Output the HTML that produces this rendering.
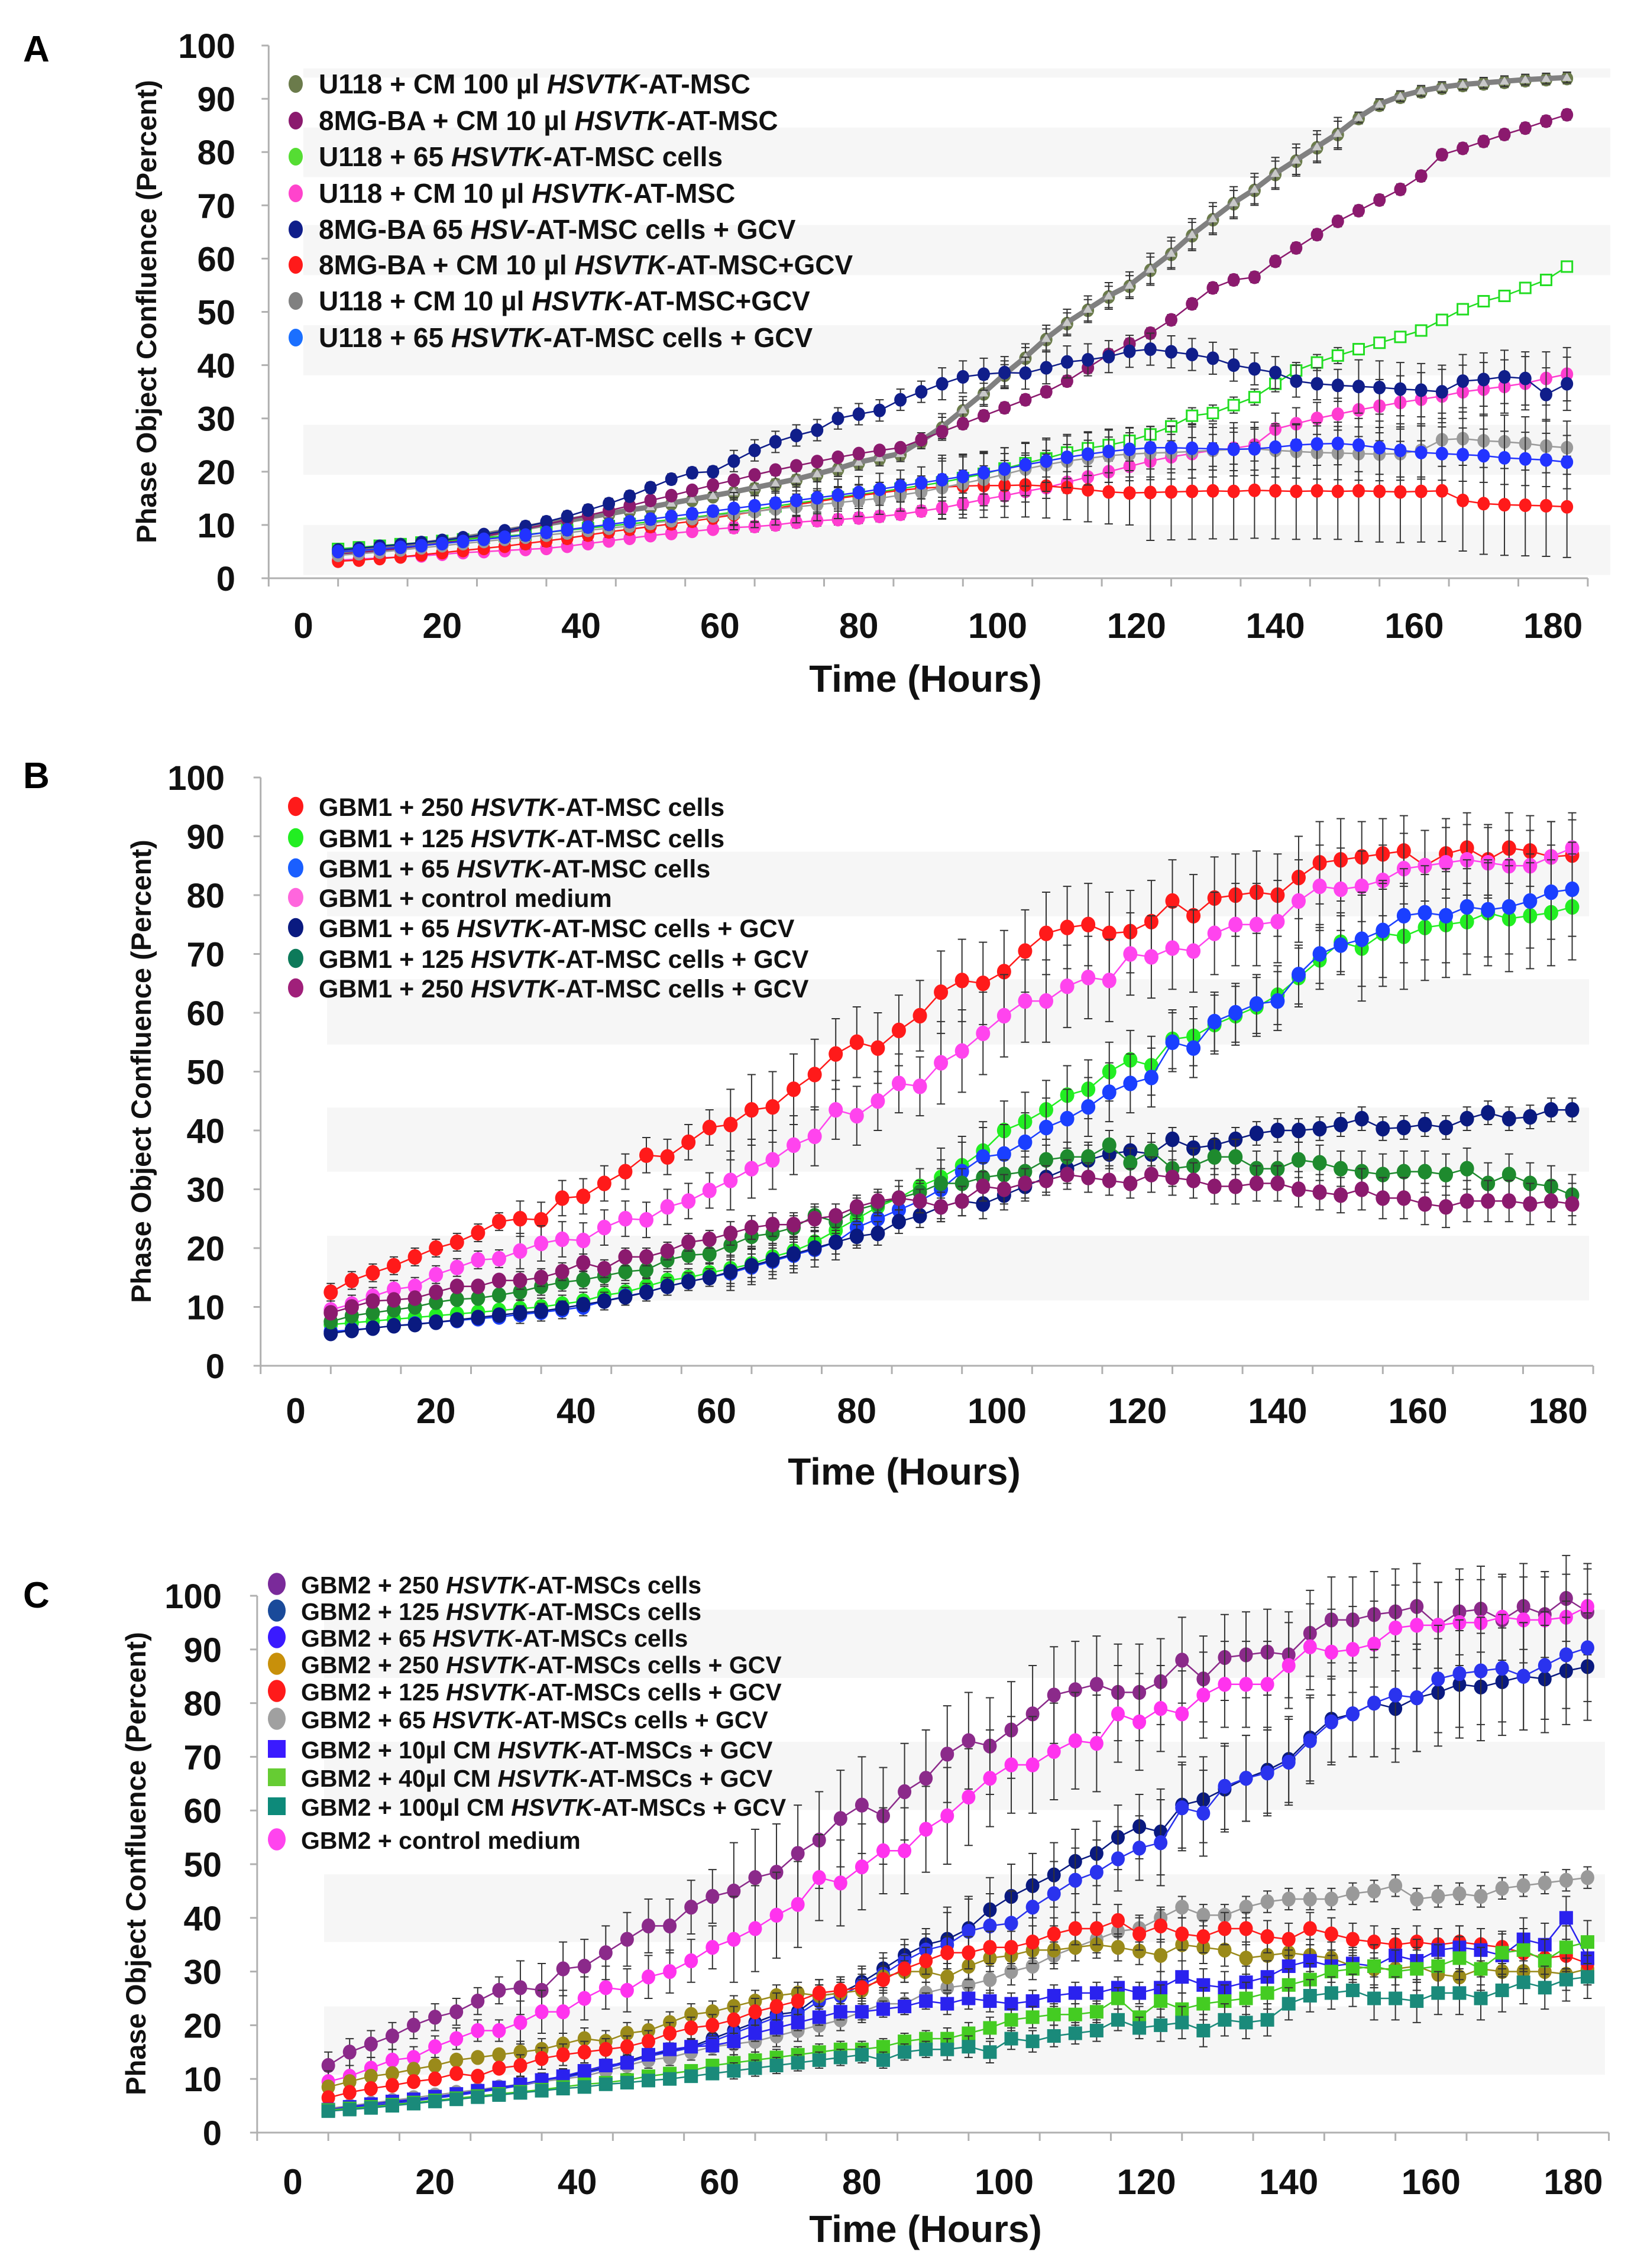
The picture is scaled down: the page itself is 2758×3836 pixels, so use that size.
<!DOCTYPE html>
<html><head><meta charset="utf-8"><title>Phase Object Confluence</title>
<style>html,body{margin:0;padding:0;background:#fff}svg{display:block}text{font-family:"Liberation Sans",Arial,sans-serif}</style>
</head><body>
<svg id="chart" xmlns="http://www.w3.org/2000/svg" width="2758" height="3836" viewBox="0 0 2758 3836">
<rect width="2758" height="3836" fill="#fff"/>
</svg>
<script>
const hours=[5,8,11,14,17,20,23,26,29,32,35,38,41,44,47,50,53,56,59,62,65,68,71,74,77,80,83,86,89,92,95,98,101,104,107,110,113,116,119,122,125,128,131,134,137,140,143,146,149,152,155,158,161,164,167,170,173,176,179,182];
const xTicks=[0,20,40,60,80,100,120,140,160,180];
const yTicks=[0,10,20,30,40,50,60,70,80,90,100];
// Panel A
const aOlive=[4.6,4.9,5.3,5.7,6.2,6.7,7.3,7.9,8.6,9.3,10,10.6,11.3,11.9,12.6,13.2,13.9,14.6,15.3,16,16.8,17.6,18.4,19.4,20.4,21.6,22.4,23.2,25.6,28.2,31.4,34.6,38.1,41.3,44.8,47.8,50.3,52.8,54.8,57.8,60.8,64.3,67.3,70.3,72.8,75.8,78.3,80.8,83.3,86.3,88.8,90.3,91.3,92,92.5,92.8,93.1,93.4,93.6,93.8];
const aPurple=[4.5,4.8,5.2,5.6,6.1,6.6,7.2,7.9,8.6,9.3,10.1,11,11.8,12.7,13.6,14.6,15.5,16.5,17.5,18.4,19.4,20.3,21.1,21.9,22.7,23.4,24,24.5,26,27.5,29,30.5,32,33.5,35,37,39.5,42,44,46,48.5,51.5,54.5,56,56.5,59.5,62,64.5,67,69,71,73,75.5,79.5,80.7,82,83.3,84.5,85.8,87];
const aGreen=[5.5,5.8,6.1,6.4,6.7,7,7.3,7.6,7.9,8.2,8.6,9,9.4,9.8,10.2,10.6,11,11.4,11.9,12.4,12.9,13.5,14.1,14.6,15.2,15.7,16.2,16.8,17.4,18,18.8,19.6,20.6,21.6,22.5,23.6,24.4,25,25.8,27,28.5,30.5,31,32.5,34,36.5,39,40.5,41.8,43,44.2,45.3,46.5,48.5,50.5,52,53,54.5,56,58.5];
const aPink=[3.4,3.6,3.8,4,4.2,4.5,4.8,5,5.2,5.4,5.6,6,6.5,7,7.5,8,8.4,8.8,9.2,9.5,9.7,10,10.5,10.8,11,11.3,11.6,12,12.6,13.2,14,14.8,15.5,16.3,17,18,19,20,21,22,22.8,23.4,24,24.4,25,28,29,30,30.8,31.6,32.3,33,33.6,34.2,35,35.5,36,36.6,37.5,38.3];
const aNavy=[5.3,5.6,6,6.3,6.7,7.1,7.6,8.2,8.9,9.7,10.6,11.6,12.8,14,15.4,17,18.6,19.8,20,22,24,25.6,26.8,27.8,30,30.8,31.5,33.5,35,36.5,37.8,38.3,38.6,38.5,39.5,40.6,41,41.6,42.6,43,42.5,42,41.3,40,39.3,38.6,37,36.5,36.2,36,35.8,35.5,35.3,35,37,37.3,37.8,37.5,34.5,36.5];
const aRed=[3.2,3.4,3.7,4,4.4,4.8,5.2,5.6,6,6.5,7,7.5,8.1,8.7,9.2,9.7,10.2,10.7,11.3,11.9,12.5,13.1,13.8,14.4,15,15.5,16,16.5,16.9,17.1,17.3,17.4,17.4,17.5,17.3,17,16.6,16.2,16,16.1,16.2,16.3,16.4,16.3,16.5,16.4,16.3,16.4,16.3,16.4,16.3,16.2,16.3,16.4,14.6,14,13.8,13.7,13.6,13.4];
const aGreyBig=[4.8,5.1,5.5,5.9,6.4,6.9,7.5,8.1,8.8,9.5,10.2,10.8,11.5,12.1,12.8,13.4,14.1,14.8,15.5,16.2,17,17.8,18.6,19.6,20.6,21.8,22.6,23.4,25.8,28.4,31.6,34.8,38.3,41.5,45,48,50.5,53,55,58,61,64.5,67.5,70.5,73,76,78.5,81,83.5,86.5,89,90.5,91.5,92.2,92.7,93,93.3,93.6,93.8,94];
const aGreyDots=[4.3,4.6,4.9,5.3,5.7,6.1,6.5,6.9,7.3,7.7,8.1,8.5,9,9.4,9.8,10.3,10.8,11.2,11.7,12.1,12.5,13,13.4,13.8,14.2,14.6,15,15.6,16.2,17,17.8,18.6,19.5,20.5,21.3,22,22.5,23,23.3,23.5,23.6,23.8,24,24.2,24.3,24,23.8,23.6,23.5,23.4,23.3,23.4,24,26,26.2,25.8,25.6,25.3,24.8,24.5];
const aBlue=[5,5.2,5.5,5.8,6.1,6.5,6.9,7.3,7.7,8.1,8.6,9.1,9.6,10.1,10.6,11.1,11.6,12.1,12.6,13.1,13.6,14.1,14.6,15.1,15.6,16.1,16.7,17.3,17.9,18.5,19.1,19.8,20.5,21.3,22,22.7,23.3,23.8,24.2,24.5,24.5,24.4,24.3,24.2,24.3,24.6,25,25.2,25.3,25,24.5,24,23.6,23.4,23.2,23,22.6,22.4,22.2,21.8];
// Panel B
const bRed=[12.5,14.5,15.8,17,18.5,20,21,22.6,24.5,25,24.8,28.5,28.8,31,33,35.8,35.5,38,40.5,41,43.5,44,47,49.5,53,55,54,57,59.5,63.5,65.5,65,67,70.5,73.5,74.5,75,73.5,73.8,75.5,79,76.5,79.5,80,80.5,80,83,85.5,86,86.5,87,87.5,85,87,88,86,88,87.5,86.5,86.8];
const bLime=[7,7.3,7.6,7.9,8.2,8.5,8.8,9.1,9.4,9.7,10,10.5,11,12,12.5,13.5,14.5,15,15.8,16.5,17.3,18.5,19.5,21,23,25,27,28.5,30.5,32,34,36.5,40,41.5,43.5,46,47,50,52,51,55.5,56,58,59.5,61,63,66,69,72,71,73.5,73,74.5,75,75.5,77,76,76.5,77,78];
const bBlue=[5.8,6.1,6.4,6.8,7.1,7.4,7.7,8,8.3,8.7,9.1,9.5,10,11,11.8,12.5,13.5,14.3,15,15.8,16.8,17.8,18.8,19.8,21,23.5,25,26.5,28,30,33,35.5,36,38,40.5,42,44,46.5,48,49,55,54,58.5,60,61.5,62,66.5,70,71.5,72.5,74,76.5,77,76.5,78,77.5,78,79,80.5,81];
const bPink=[9.5,10.5,11.8,13,13.5,15.5,16.7,18,18.2,19.5,20.8,21.5,21.3,23.5,25,24.8,27,28,29.8,31.5,33.5,35,37.5,39,43.5,42.5,45,48,47.5,51.5,53.5,56.5,59.5,62,62,64.5,66,65.5,70,69.5,71,70.5,73.5,75,75,75.5,79,81.5,81,81.5,82.5,84.5,85,85.5,86,85.5,85,85,86.5,88];
const bNavy=[5.5,6,6.4,6.8,7,7.4,7.8,8.2,8.6,9,9.3,9.8,10.4,11,11.7,12.5,13.5,14.3,15,16,17,18,19,20,21,22,22.5,24.5,25.5,27,28,27.5,29,30.5,32,33.5,35,36,36.5,36,38.5,37,37.5,38.5,39.5,40,40,40.3,41,42,40.3,40.5,41,40.5,42,43,42,42.3,43.5,43.5];
const bDkGreen=[7.5,8.5,9,9.5,10,10.8,11.3,11.5,12,12.6,13.5,14.2,14.6,15.3,16,16.3,18,18.8,19,20.5,22,22.5,23.5,25.5,24.5,26.5,27.5,28.5,29.5,31,31,32,32.5,33,35,35.5,35.5,37.5,34.5,36.5,33.5,34,35.5,35.5,33.5,33.5,35,34.5,33.5,33,32.5,33,33,32.5,33.5,31,32.5,31,30.5,29];
const bPurple=[9,10,11,11.2,11.5,12.5,13.5,13.5,14.5,14.5,15,16,17.5,16.5,18.5,18.5,19.5,21,21.5,22.5,23.5,24,24,25,25.5,27,28,28.5,28,27,28,30.5,30,31,31.5,32.5,32,31.5,31,32.5,32,31.5,30.5,30.5,31,31,30,29.5,29,30,28.5,28.5,27.5,27,28,28,28,27.5,28,27.5];
// Panel C
const cPurple=[12.5,15,16.5,18,20,21.5,22.5,24.5,26.5,27,26.5,30.5,31,33.5,36,38.5,38.5,42,44,45,47.5,48.5,52,54.5,58.5,61,59,63.5,66,70.5,73,72,75,78,81.5,82.5,83.5,82,82,84,88,84.5,88.5,89,89.5,89,93,95.5,95.5,96.5,97,98,94.5,97,97.5,95.5,98,96.5,99.5,97];
const cNavy=[4.3,4.6,5,5.5,6,6.5,7,7.6,8.2,8.9,9.6,10.4,11.2,12.2,13.3,14.5,15.2,16,17.5,19,20.5,22,22.5,25.5,26,28,30.5,33,35,36,38,41.5,44,46,48,50.5,52,55,57,56,61,62,64,66,67.5,69.5,73.5,77,78,80,79,81,82,83.5,83,84,85,84.5,86,86.8];
const cBlue=[4.3,4.6,5,5.4,5.9,6.4,6.9,7.5,8.1,8.8,9.5,10.2,11,12,13,14.2,15,15.8,17,18.5,20,21.5,22,24.5,25.5,27.5,29.5,32,34,35,37.5,38.5,39,42,44.5,47,48.5,51,53,54,60.5,59.5,64.5,66,67,69,73,76.5,78,80,81.5,81,84.5,85.5,86,86.5,85,87,89,90.3];
const cOlive=[8.5,9.5,10.5,11,11.8,12.5,13.5,14,14.5,15,15.5,16.5,17.5,17,18.5,19,20.5,22,22.5,23.5,24.5,25.5,26,25.5,26,26.5,29,30,30,29,31,32.5,33,34,34,34.5,35,34.5,33.8,33,35,34.5,34,32.5,33,33.5,33,32.5,31,30.5,30.5,31,29.5,29,30.5,30,30,30,29.5,30.5];
const cRed=[6.5,7.5,8.2,8.8,9.5,10,11,10.5,12,12.5,13.8,14.5,15,15.5,16,17,18.5,19.5,20,21,22.5,23.5,24.5,26,26.5,27,28.5,30.5,32,33.5,33.5,34.5,34.5,35.5,37,38,38,39.5,37,38.5,37,36.5,38,38,36.5,36,38,37,36,35.5,35,35.5,35,35.5,35,34.5,33.5,32.5,33,31.5];
const cGrey=[4.5,5,5.5,6,6.5,7,7.5,8,8.5,9,9.5,10,10.5,11.5,12.5,13.5,14,15,16,16.5,17,18,19,20,21,22.5,24,24,26,27,27.5,28.5,30,31,33,34.5,36,37.5,38,40,42,40.5,40.5,42,43,43.5,43.5,43.5,44.5,45,46,43.5,44,44.5,44,45.5,46,46.5,47,47.5];
const cBlueSq=[4.3,4.8,5.3,5.8,6.2,6.7,7.2,7.8,8.4,9,9.8,10.5,11.5,12.5,13,14.5,15.5,16,16.2,17,18.5,19.5,20.5,21.5,22.5,22.5,23,23.5,24.5,24,25,24.5,24,24.5,25.5,26,26,27,26,27,29,27.5,27,28,29,31,32,31,31.5,31,33,32,34,34.5,34,33,36,35,40,32.5];
const cGreenSq=[4.2,4.5,4.8,5.2,5.6,6,6.4,6.8,7.2,7.6,8,8.5,9,9.3,9.8,10.5,11,11.5,12.5,13,13.5,14,14.5,15,15.5,15.5,16,17,17.5,17.5,18.5,19.5,21,21.5,22,22,22.5,25,21.5,24.5,23,24,24.5,25,26,27.5,28.5,30,30.5,31,30,30.5,31,32.5,30.5,33.5,34,32,34.5,35.5];
const cTealSq=[4,4.3,4.6,5,5.4,5.8,6.2,6.6,7,7.4,7.8,8.2,8.5,9,9.3,9.7,10,10.5,11,11.5,12,12.5,13,13.5,14,14.5,13.5,15,15.5,15.5,16,15,17.5,17,18,18.5,19,21,19.5,20,20.5,19,21,20.5,21,24,25.5,26,26.5,25,25,24.5,26,26,25,26.5,28,27,28.5,29];
const cPink=[9.5,10.5,12,13.5,14,16,17.5,19,19,20.5,22.5,22.5,25,27,26.5,29,30,32,34.5,36,38,40.5,42.5,47.5,46.5,49.5,52.5,52.5,56.5,59,62.5,66,68.5,68.5,71,73,72.5,78,76.5,79,78,81.5,83.5,83.5,83.5,87,90.5,89.5,90,91,94,94.5,94.5,95,95,96,95.5,95.5,96,98];
// error magnitudes per 30-hour segment
const aErrPurple=[0.4,0.6,0.8,1,1,1], aErrOlive=[0.4,0.6,1,2,2.5,1], aErrGreen=[0.4,0.6,1,1.5,1.5,1], aErrPink=[0.5,0.7,1,2,3,5], aErrNavy=[0.5,1,2,3,3,5], aErrRed=[0.5,1,2,6,9,9.5], aErrGreyBig=[0.4,0.6,1.5,2.5,3,1], aErrGreyDots=[0.5,1,3,5,5,5], aErrBlue=[0.5,1,3,4,4,5];
const bErrRed=[1.5,3,6,7,7,6], bErrLime=[0.8,1.5,3,5,5,9], bErrBlue=[0.8,1.5,3,5,5,8], bErrPink=[1.5,3,5,7,7,6], bErrNavy=[0.5,1,2,2.5,2,2], bErrDkGreen=[0.8,1.5,2,2.5,3,3.5], bErrPurple=[1,1.5,2,2.5,3,3.5];
const cErrPurple=[2.5,5,9,9,8,8], cErrNavy=[0.7,1.5,3,6,8,10], cErrBlue=[0.7,1.5,3,6,8,10], cErrOlive=[1,2,2,2.5,3,3], cErrRed=[1,2,2.5,3,3,3], cErrGrey=[0.8,1.5,2,2.5,2,2], cErrSq=[0.5,1,1.5,2,3,4], cErrPink=[2,4,8,9,8,8];

const NS='http://www.w3.org/2000/svg';
const svg=document.getElementById('chart');
function el(tag,attrs,parent){const e=document.createElementNS(NS,tag);for(const k in attrs)e.setAttribute(k,attrs[k]);(parent||svg).appendChild(e);return e;}

function drawPanel(cfg,series,legend){
  const g=el('g',{});
  
  
  const X=v=>cfg.x0+cfg.ph*v, Y=v=>cfg.y0-cfg.pu*v;
  cfg.bands.forEach(b=>{const r=el('rect',{x:cfg.bx0,y:Y(b[1]),width:cfg.bx1-cfg.bx0,height:Y(b[0])-Y(b[1]),fill:'#f6f6f6'},g);
    });
  const ya=el('line',{x1:X(-5),y1:Y(0),x2:X(-5),y2:Y(100),stroke:'#b0b0b0','stroke-width':3},g);
  
  const xa=el('line',{x1:X(-5),y1:Y(0),x2:X(185),y2:Y(0),stroke:'#b0b0b0','stroke-width':3},g);
  
  for(let k=0;k<=19;k++){const tx=X(-5+10*k);const t=el('line',{x1:tx,y1:Y(0),x2:tx,y2:Y(0)+14,stroke:'#b0b0b0','stroke-width':3},g);
    }
  yTicks.forEach(v=>{const t=el('line',{x1:X(-5)-12,y1:Y(v),x2:X(-5),y2:Y(v),stroke:'#b0b0b0','stroke-width':3},g);
    
    const l=el('text',{x:cfg.ylx,y:Y(v)+21,'text-anchor':'end','font-size':58,'font-weight':'bold',fill:'#111'},g);l.textContent=v;
    });
  xTicks.forEach(v=>{const l=el('text',{x:X(v),y:cfg.xly+22,'text-anchor':'middle','font-size':60,'font-weight':'bold',fill:'#111'},g);l.textContent=v;
    });
  const xt=el('text',{x:cfg.xtx,y:cfg.xty+24,'text-anchor':'middle','font-size':64,'font-weight':'bold',fill:'#111'},g);xt.textContent='Time (Hours)';
  
  const yt=el('text',{x:0,y:0,'text-anchor':'middle','font-size':47,'font-weight':'bold',fill:'#111',transform:`translate(${cfg.ytx+16},${cfg.yty}) rotate(-90)`},g);yt.textContent='Phase Object Confluence (Percent)';
  
  const pl=el('text',{x:39,y:cfg.ply,'font-size':62,'font-weight':'bold',fill:'#000'},g);pl.textContent=cfg.id.slice(-1).toUpperCase();
  
  series.forEach(s=>{
    const sg=el('g',{},g);
    
    
    s.vals.forEach((v,i)=>{const e=s.err[Math.min(5,Math.floor(hours[i]/30))];const x=X(hours[i]);
      const eb=el('path',{d:`M${x},${Y(v+e)}V${Y(v-e)}M${x-7},${Y(v+e)}H${x+7}M${x-7},${Y(v-e)}H${x+7}`,stroke:'#333','stroke-width':2,fill:'none'},sg);
      });
    const d=s.vals.map((v,i)=>(i?'L':'M')+X(hours[i]).toFixed(1)+','+Y(v).toFixed(1)).join('');
    const ln=el('path',{d:d,stroke:s.line||s.color,'stroke-width':s.lw||2.5,fill:'none','stroke-linejoin':'round'},sg);
    
    s.vals.forEach((v,i)=>{const x=X(hours[i]),y=Y(v);let m;const r=cfg.r;
      if(s.mk==='sq')m=el('rect',{x:x-r,y:y-r,width:2*r,height:2*r,fill:s.color},sg);
      else if(s.mk==='osq')m=el('rect',{x:x-9,y:y-9,width:18,height:18,fill:'#fff',stroke:s.color,'stroke-width':3},sg);
      else if(s.mk==='tri')m=el('path',{d:`M${x},${y-8}L${x+8},${y+6}L${x-8},${y+6}Z`,fill:s.color},sg);
      else m=el('ellipse',{cx:x,cy:y,rx:r,ry:r*1.1,fill:s.color},sg);
      });
  });
  legend.forEach((L,i)=>{const y=cfg.leg[i];const lg=el('g',{},g);
    
    let m;
    if(L[4]==='sq')m=el('rect',{x:cfg.lmx-cfg.lr,y:y-cfg.lr,width:cfg.lr*2,height:cfg.lr*2,fill:L[3]},lg);
    else m=el('ellipse',{cx:cfg.lmx,cy:y,rx:cfg.lr,ry:cfg.lr*1.25,fill:L[3]},lg);
    
    const t=el('text',{x:cfg.ltx,y:y+16,'font-size':cfg.lfs,'font-weight':'bold',fill:'#111'},lg);
    
    const a=el('tspan',{},t);a.textContent=L[0];const b=el('tspan',{'font-style':'italic'},t);b.textContent=L[1];const c=el('tspan',{},t);c.textContent=L[2];
  });
}

drawPanel({id:'panel-a',x0:513,ph:11.74,y0:978,pu:9.01,r:10.5,bx0:513,bx1:2723,
  bands:[[0.6,10],[19.4,28.8],[38.1,47.5],[56.9,66.3],[75.3,84.6],[94,95.7]],
  ylx:398,xly:1057,xtx:1565,xty:1146,ytx:248,yty:527,ply:104,
  leg:[142,204,265,327,388,448,509,571],lmx:500,ltx:539,lr:12,lfs:46},
 [{name:'series-u118-cm100',vals:aOlive,err:aErrOlive,color:'#6b7b4b',mk:'c'},
  {name:'series-u118-cm10-gcv-thick',vals:aGreyBig,err:aErrGreyBig,color:'#c8c8c8',line:'#808080',lw:9,mk:'tri'},
  {name:'series-8mg-cm10',vals:aPurple,err:aErrPurple,color:'#8b1a6e',mk:'c'},
  {name:'series-u118-65-cells',vals:aGreen,err:aErrGreen,color:'#22dd22',mk:'osq'},
  {name:'series-u118-cm10',vals:aPink,err:aErrPink,color:'#ff3dd0',mk:'c'},
  {name:'series-8mg-65-gcv',vals:aNavy,err:aErrNavy,color:'#101e8a',mk:'c'},
  {name:'series-8mg-cm10-gcv',vals:aRed,err:aErrRed,color:'#ff1a1a',mk:'c'},
  {name:'series-u118-cm10-gcv',vals:aGreyDots,err:aErrGreyDots,color:'#9a9a9a',mk:'c'},
  {name:'series-u118-65-gcv',vals:aBlue,err:aErrBlue,color:'#2233ff',mk:'c'}],
 [['U118 + CM 100 µl ','HSVTK','-AT-MSC','#6b7b4b'],['8MG-BA + CM 10 µl ','HSVTK','-AT-MSC','#8b1a6e'],['U118 + 65 ','HSVTK','-AT-MSC cells','#55dd33'],['U118 + CM 10 µl ','HSVTK','-AT-MSC','#ff44cc'],['8MG-BA 65 ','HSV','-AT-MSC cells + GCV','#101e8a'],['8MG-BA + CM 10 µl ','HSVTK','-AT-MSC+GCV','#ff1a1a'],['U118 + CM 10 µl ','HSVTK','-AT-MSC+GCV','#808080'],['U118 + 65 ','HSVTK','-AT-MSC cells + GCV','#1a6fff']]);

drawPanel({id:'panel-b',x0:500,ph:11.86,y0:2310,pu:9.95,r:12,bx0:553,bx1:2687,
  bands:[[11.1,22.1],[33,43.9],[54.6,65.7],[76.4,87.4]],
  ylx:380,xly:2385,xtx:1529,xty:2487,ytx:239,yty:1812,ply:1333,
  leg:[1364,1417,1468,1518,1569,1621,1671],lmx:500,ltx:539,lr:13,lfs:43},
 [{name:'series-gbm1-250',vals:bRed,err:bErrRed,color:'#ff1a1a',mk:'c'},
  {name:'series-gbm1-control',vals:bPink,err:bErrPink,color:'#ff44ee',mk:'c'},
  {name:'series-gbm1-125',vals:bLime,err:bErrLime,color:'#22ee22',mk:'c'},
  {name:'series-gbm1-65',vals:bBlue,err:bErrBlue,color:'#1a3fff',mk:'c'},
  {name:'series-gbm1-65-gcv',vals:bNavy,err:bErrNavy,color:'#0a1a80',mk:'c'},
  {name:'series-gbm1-125-gcv',vals:bDkGreen,err:bErrDkGreen,color:'#1e8a2e',mk:'c'},
  {name:'series-gbm1-250-gcv',vals:bPurple,err:bErrPurple,color:'#8b1a6e',mk:'c'}],
 [['GBM1 + 250 ','HSVTK','-AT-MSC cells','#ff1a1a'],['GBM1 + 125 ','HSVTK','-AT-MSC cells','#22ee22'],['GBM1 + 65 ','HSVTK','-AT-MSC cells','#1a5fff'],['GBM1 + control medium','','','#ff66dd'],['GBM1 + 65 ','HSVTK','-AT-MSC cells + GCV','#0a1a80'],['GBM1 + 125 ','HSVTK','-AT-MSC cells + GCV','#0d7a5a'],['GBM1 + 250 ','HSVTK','-AT-MSC cells + GCV','#a0207a']]);

drawPanel({id:'panel-c',x0:495,ph:12.03,y0:3607,pu:9.08,r:11.5,bx0:548,bx1:2714,
  bands:[[10.8,23.5],[35.5,48.1],[60.1,72.8],[84.7,97.4]],
  ylx:375,xly:3689,xtx:1565,xty:3768,ytx:230,yty:3152,ply:2719,
  leg:[2679,2724,2769,2814,2860,2907,2958,3006,3055,3111],lmx:468,ltx:509,lr:15,lfs:41},
 [{name:'series-gbm2-250',vals:cPurple,err:cErrPurple,color:'#8b2a8a',mk:'c'},
  {name:'series-gbm2-control',vals:cPink,err:cErrPink,color:'#ff33ee',mk:'c'},
  {name:'series-gbm2-125',vals:cNavy,err:cErrNavy,color:'#0a1a80',mk:'c'},
  {name:'series-gbm2-65',vals:cBlue,err:cErrBlue,color:'#2a33ee',mk:'c'},
  {name:'series-gbm2-65-gcv',vals:cGrey,err:cErrGrey,color:'#999999',mk:'c'},
  {name:'series-gbm2-250-gcv',vals:cOlive,err:cErrOlive,color:'#9a8a1a',mk:'c'},
  {name:'series-gbm2-125-gcv',vals:cRed,err:cErrRed,color:'#ff1a1a',mk:'c'},
  {name:'series-gbm2-cm10-gcv',vals:cBlueSq,err:cErrSq,color:'#2a22ee',mk:'sq'},
  {name:'series-gbm2-cm40-gcv',vals:cGreenSq,err:cErrSq,color:'#44cc22',mk:'sq'},
  {name:'series-gbm2-cm100-gcv',vals:cTealSq,err:cErrSq,color:'#1a8a7a',mk:'sq'}],
 [['GBM2 + 250 ','HSVTK','-AT-MSCs cells','#7a2a9a'],['GBM2 + 125 ','HSVTK','-AT-MSCs cells','#1a4a9a'],['GBM2 + 65 ','HSVTK','-AT-MSCs cells','#3a1aff'],['GBM2 + 250 ','HSVTK','-AT-MSCs cells + GCV','#c8900a'],['GBM2 + 125 ','HSVTK','-AT-MSCs cells + GCV','#ff1a1a'],['GBM2 + 65 ','HSVTK','-AT-MSCs cells + GCV','#a0a0a0'],['GBM2 + 10µl CM ','HSVTK','-AT-MSCs + GCV','#3a1aff','sq'],['GBM2 + 40µl CM ','HSVTK','-AT-MSCs + GCV','#66cc33','sq'],['GBM2 + 100µl CM ','HSVTK','-AT-MSCs + GCV','#0d8a7a','sq'],['GBM2 + control medium','','','#ff44ee']]);
</script>
</body></html>
